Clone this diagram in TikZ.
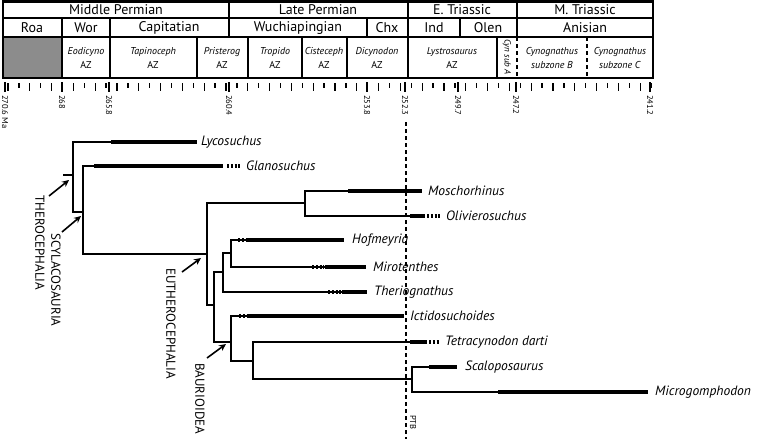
\documentclass[tikz,border=0pt]{standalone}
\usepackage{fontspec}
\setmainfont{PT Sans}
\usetikzlibrary{arrows.meta}

\begin{document}
\begin{tikzpicture}[x=1pt, y=-1pt,
    box/.style={line width=1.8pt},
    epoch/.style={font=\fontsize{14}{16}\selectfont},
    zone/.style={align=center, font=\fontsize{10}{14}\selectfont},
    agetick/.style={line width=1.3pt},
    agelabel/.style={rotate=-90, anchor=west, inner sep=0pt, font=\fontsize{8.5}{9}\selectfont},
    branch/.style={line width=1.3pt},
    rangebar/.style={line width=4.5pt},
    ghost/.style={line width=4.5pt, dash pattern=on 2pt off 1.8pt},
    taxon/.style={anchor=west, inner sep=0pt, font=\fontsize{13.5}{16}\selectfont\itshape},
    clade/.style={rotate=-90, anchor=west, inner sep=0pt, font=\fontsize{13}{14}\selectfont},
    pointer/.style={-{Stealth[length=7pt, width=6.5pt]}, line width=1.6pt}
]
\useasboundingbox (0,0) rectangle (762,439);

% --- TIME SCALE TABLE ---
\fill[black!45] (3,37) rectangle (62,78);
\draw[box] (3,18) -- (653,18) (3,37) -- (653,37);
\foreach \x in {229,408,517}
    \draw[box] (\x,1) -- (\x,18);
\foreach \x in {62,110,229,367,408,460,517}
    \draw[box] (\x,18) -- (\x,37);
\foreach \x in {62,110,197,248,302,347,408,497}
    \draw[box] (\x,37) -- (\x,78);
\foreach \x in {517,587}
    \draw[box, dash pattern=on 4pt off 3pt] (\x,37) -- (\x,78);
\draw[line width=2.2pt] (3,1.5) rectangle (653,78);

% epochs and stages
\foreach \nm/\x/\txt in {mperm/116/Middle Permian, lperm/318/Late Permian,
                         etri/462/E. Triassic, mtri/585/M. Triassic}
    \node[epoch] (\nm) at (\x,10) {\txt};
\foreach \nm/\x/\txt in {roa/32/Roa, wor/86/Wor, cap/169/Capitatian, wuc/298/Wuchiapingian,
                         chx/387/Chx, ind/434/Ind, ole/488/Olen, ani/585/Anisian}
    \node[epoch] (\nm) at (\x,28) {\txt};

% assemblage zones
\foreach \nm/\x/\txt in {eod/86/Eodicyno, tap/153/Tapinoceph, pri/222/Pristerog,
                         tro/275/Tropido, cis/324/Cisteceph, dic/377/Dicynodon,
                         lys/452/Lystrosaurus}
    \node[zone] (\nm) at (\x,58) {\textit{\txt}\\AZ};
\node[zone, rotate=-90, font=\fontsize{9}{10}\selectfont\itshape] (cyna) at (507,57) {Cyn sub A};
\node[zone] (cynb) at (552,58) {\textit{Cynognathus}\\\textit{subzone B}};
\node[zone] (cync) at (620,58) {\textit{Cynognathus}\\\textit{subzone C}};

% --- AGE AXIS ---
\foreach \i [evaluate=\i as \tx using {8+\i*10.9},
             evaluate=\i as \ty using {ifthenelse(mod(\i,2)==0,91,88)}] in {0,...,59}
    \draw[agetick] (\tx,83) -- (\tx,\ty);
\foreach \nm/\x/\age in {a1/5/270.6 Ma, a2/62/268, a3/109/265.8, a4/229/260.4, a5/367/253.8,
                         a6/405/252.3, a7/458/249.7, a8/516/247.2, a9/650/241.2}
{
    \draw[agetick] (\x,82) -- (\x,92);
    \node[agelabel] (\nm) at (\x,95) {\age};
}

% PTB
\coordinate (ptb-top) at (406,122);
\coordinate (ptb-bot) at (406,439);
\draw[line width=1.3pt, dash pattern=on 4pt off 3pt] (ptb-top) -- (ptb-bot);
\node[agelabel] (ptb) at (413,415) {PTB};

% --- TAXA ---
% name / y / bar start / bar end / label x / label
\foreach \tx/\y/\xs/\xe/\lx/\lab in {
    lyco/142/111/197/201/Lycosuchus,
    glano/166/94/223/246/Glanosuchus,
    moscho/191/348/422/428/Moschorhinus,
    olivi/216/410/425/446/Olivierosuchus,
    hofm/240/247/344/352/Hofmeyria,
    miro/267/325/366/373/Mirotenthes,
    therio/292/342/367/374/Theriognathus,
    ictido/316/248/404/410/Ictidosuchoides,
    tetra/342/410/427/445/Tetracynodon darti,
    scalo/367/429/457/465/Scaloposaurus,
    micro/392/498/648/655/Microgomphodon}
{
    \coordinate (\tx-s) at (\xs,\y);
    \coordinate (\tx-e) at (\xe,\y);
    \draw[rangebar] (\tx-s) -- (\tx-e);
    \node[taxon] (\tx) at (\lx,\y) {\lab};
}

% ghost ranges
\foreach \tx/\a/\b in {glano/4/17,olivi/2/15,tetra/2/13}
    \draw[ghost] ([xshift=\a pt]\tx-e) -- ([xshift=\b pt]\tx-e);
\foreach \tx/\d in {hofm/9,miro/13,therio/14,ictido/9}
    \draw[ghost] ([xshift=-\d pt]\tx-s) -- ([xshift=-1pt]\tx-s);

% --- TREE ---
\coordinate (root) at (63,175);
\coordinate (n1) at (73,175);   % Therocephalia
\coordinate (n2) at (83,212);   % Scylacosauria
\coordinate (n3) at (207,254);  % Eutherocephalia
\coordinate (n4) at (305,203);
\coordinate (n5) at (214,305);
\coordinate (n6) at (223,272);
\coordinate (n7) at (231,253);
\coordinate (n8) at (231,342);  % Baurioidea
\coordinate (n9) at (253,361);
\coordinate (n10) at (412,379);

\draw[branch] (root) -- (n1);
\foreach \p/\c in {n1/lyco-s, n1/n2, n2/glano-s, n2/n3, n3/n4, n3/n5,
                   n4/moscho-s, n4/olivi-s, n5/n6, n5/n8, n6/n7, n6/therio-s,
                   n7/hofm-s, n7/miro-s, n8/ictido-s, n8/n9, n9/tetra-s, n9/n10,
                   n10/scalo-s, n10/micro-s}
    \draw[branch] (\p) |- (\c);

% --- CLADE LABELS ---
\node[clade] (thero) at (40,195) {THEROCEPHALIA};
\node[clade] (scyla) at (56,233) {SCYLACOSAURIA};
\node[clade] (euthe) at (171,268) {EUTHEROCEPHALIA};
\node[clade] (bauri) at (200,363) {BAURIOIDEA};

\coordinate (thero-a) at (49,196);
\coordinate (thero-b) at (69,180);
\coordinate (scyla-a) at (62,232);
\coordinate (scyla-b) at (81,216);
\coordinate (euthe-a) at (182,272);
\coordinate (euthe-b) at (201,258);
\coordinate (bauri-a) at (207,358);
\coordinate (bauri-b) at (226,344);
\foreach \c in {thero,scyla,euthe,bauri}
    \draw[pointer] (\c-a) -- (\c-b);

\end{tikzpicture}
\end{document}
